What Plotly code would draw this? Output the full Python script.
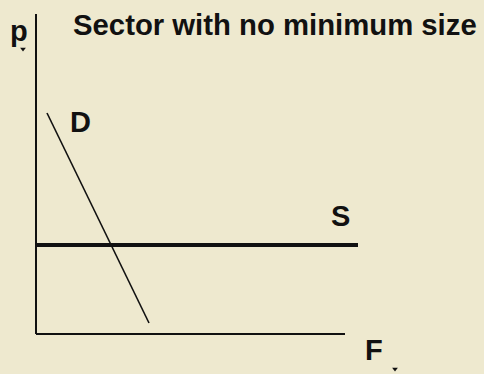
import plotly.graph_objects as go

# Data (economic diagram coordinates; origin at the axes corner)
demand_q = [11, 113]
demand_p = [221, 11]
supply_q = [0, 322]
supply_p = [89, 89]
p_axis_q = [0, 0]
p_axis_p = [0, 320]
f_axis_q = [0, 309]
f_axis_p = [0, 0]

title_text = "Sector with no minimum size"
labels = {"D": (44, 212), "S": (304, 118), "F": (338, -16), "p": (-17, 303)}
marks_q = [-13, 359]
marks_p = [285, -35]

BG = "#eee9cf"
FONT = "Liberation Sans, Arial, sans-serif"

fig = go.Figure()
fig.add_trace(go.Scatter(x=p_axis_q, y=p_axis_p, mode="lines",
                         line=dict(color="#111", width=2), hoverinfo="skip"))
fig.add_trace(go.Scatter(x=f_axis_q, y=f_axis_p, mode="lines",
                         line=dict(color="#111", width=2), hoverinfo="skip"))
fig.add_trace(go.Scatter(x=supply_q, y=supply_p, mode="lines",
                         line=dict(color="#111", width=4), hoverinfo="skip"))
fig.add_trace(go.Scatter(x=demand_q, y=demand_p, mode="lines",
                         line=dict(color="#111", width=1.6), hoverinfo="skip"))
fig.add_trace(go.Scatter(x=marks_q, y=marks_p, mode="markers",
                         marker=dict(symbol="triangle-down", size=5, color="#111"),
                         hoverinfo="skip"))

for txt, (qx, py) in labels.items():
    fig.add_annotation(x=qx, y=py, text="<b>%s</b>" % txt, showarrow=False,
                       xanchor="center", yanchor="middle",
                       font=dict(family=FONT, size=29, color="#111"))

fig.add_annotation(x=35, y=310, text="<b>%s</b>" % title_text, showarrow=False,
                   xanchor="left", yanchor="middle",
                   font=dict(family=FONT, size=29.3, color="#111"))

fig.update_layout(
    width=484, height=374,
    margin=dict(l=0, r=0, t=0, b=0),
    paper_bgcolor=BG, plot_bgcolor=BG,
    showlegend=False,
    xaxis=dict(range=[-36, 448], visible=False, fixedrange=True),
    yaxis=dict(range=[-40, 334], visible=False, fixedrange=True),
)

fig.write_html("out.html", config={"displayModeBar": False},
               post_script="document.body.style.margin='0';document.body.style.background='%s';" % BG)
